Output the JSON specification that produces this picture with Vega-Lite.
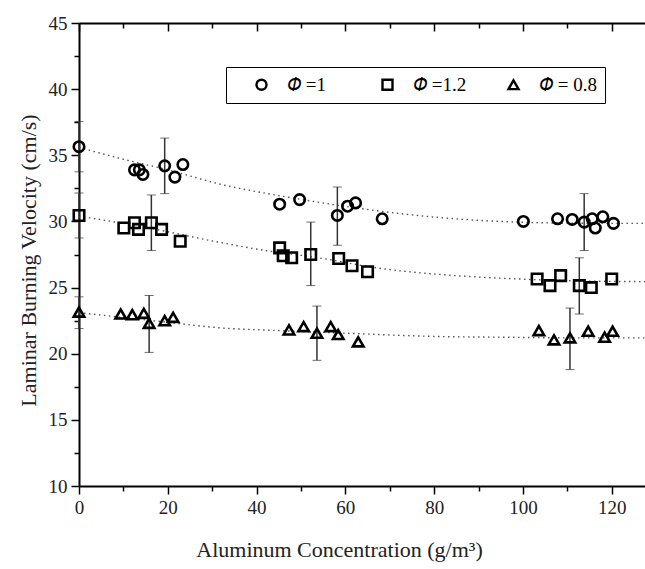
{
  "$schema": "https://vega.github.io/schema/vega-lite/v6.json",
  "width": 566,
  "height": 463,
  "autosize": "none",
  "padding": {"left": 79, "top": 23, "right": 0, "bottom": 83},
  "background": "white",
  "config": {
    "font": "Liberation Serif",
    "view": {"stroke": null},
    "axis": {
      "labelFont": "Liberation Serif",
      "titleFont": "Liberation Serif",
      "labelFontSize": 19,
      "titleFontSize": 22,
      "titleFontWeight": "normal",
      "labelColor": "#222",
      "titleColor": "#222",
      "domainColor": "black",
      "domainWidth": 2,
      "tickColor": "black",
      "tickWidth": 1.5,
      "grid": false,
      "labelOverlap": false,
      "labelFlush": false
    },
    "legend": {
      "labelFont": "Liberation Serif",
      "labelFontSize": 19,
      "labelColor": "black"
    }
  },
  "resolve": {"axis": {"x": "independent", "y": "independent"}},
  "datasets": {
    "pts": [
      {"s": "𝛷 =1", "x": 0, "v": 35.65},
      {"s": "𝛷 =1", "x": 12.5, "v": 33.9},
      {"s": "𝛷 =1", "x": 13.6, "v": 33.9},
      {"s": "𝛷 =1", "x": 14.4, "v": 33.55},
      {"s": "𝛷 =1", "x": 19.3, "v": 34.2},
      {"s": "𝛷 =1", "x": 21.6, "v": 33.35},
      {"s": "𝛷 =1", "x": 23.4, "v": 34.3},
      {"s": "𝛷 =1", "x": 45.2, "v": 31.3},
      {"s": "𝛷 =1", "x": 49.7, "v": 31.65},
      {"s": "𝛷 =1", "x": 58.2, "v": 30.45},
      {"s": "𝛷 =1", "x": 60.5, "v": 31.15},
      {"s": "𝛷 =1", "x": 62.3, "v": 31.4},
      {"s": "𝛷 =1", "x": 68.3, "v": 30.2},
      {"s": "𝛷 =1", "x": 100.1, "v": 30.0},
      {"s": "𝛷 =1", "x": 107.8, "v": 30.2},
      {"s": "𝛷 =1", "x": 111.1, "v": 30.15},
      {"s": "𝛷 =1", "x": 113.8, "v": 29.95},
      {"s": "𝛷 =1", "x": 115.6, "v": 30.2},
      {"s": "𝛷 =1", "x": 116.3, "v": 29.5},
      {"s": "𝛷 =1", "x": 118.0, "v": 30.35},
      {"s": "𝛷 =1", "x": 120.4, "v": 29.85},
      {"s": "𝛷 =1.2", "x": 0, "v": 30.45},
      {"s": "𝛷 =1.2", "x": 10.1, "v": 29.5},
      {"s": "𝛷 =1.2", "x": 12.5, "v": 29.9},
      {"s": "𝛷 =1.2", "x": 13.4, "v": 29.4},
      {"s": "𝛷 =1.2", "x": 16.3, "v": 29.9},
      {"s": "𝛷 =1.2", "x": 18.6, "v": 29.4},
      {"s": "𝛷 =1.2", "x": 22.8, "v": 28.5},
      {"s": "𝛷 =1.2", "x": 45.2, "v": 28.0},
      {"s": "𝛷 =1.2", "x": 46.0, "v": 27.4},
      {"s": "𝛷 =1.2", "x": 47.9, "v": 27.25},
      {"s": "𝛷 =1.2", "x": 52.2, "v": 27.5},
      {"s": "𝛷 =1.2", "x": 58.5, "v": 27.2},
      {"s": "𝛷 =1.2", "x": 61.5, "v": 26.65},
      {"s": "𝛷 =1.2", "x": 65.0, "v": 26.2},
      {"s": "𝛷 =1.2", "x": 103.2, "v": 25.65},
      {"s": "𝛷 =1.2", "x": 106.1, "v": 25.15},
      {"s": "𝛷 =1.2", "x": 108.5, "v": 25.9},
      {"s": "𝛷 =1.2", "x": 112.7, "v": 25.15},
      {"s": "𝛷 =1.2", "x": 115.4, "v": 25.0},
      {"s": "𝛷 =1.2", "x": 120.0, "v": 25.65},
      {"s": "𝛷 = 0.8", "x": 0, "v": 23.15},
      {"s": "𝛷 = 0.8", "x": 9.4, "v": 23.0},
      {"s": "𝛷 = 0.8", "x": 12.0, "v": 22.95},
      {"s": "𝛷 = 0.8", "x": 14.6, "v": 23.05},
      {"s": "𝛷 = 0.8", "x": 15.8, "v": 22.3},
      {"s": "𝛷 = 0.8", "x": 19.3, "v": 22.5},
      {"s": "𝛷 = 0.8", "x": 21.2, "v": 22.75},
      {"s": "𝛷 = 0.8", "x": 47.3, "v": 21.8},
      {"s": "𝛷 = 0.8", "x": 50.6, "v": 22.05},
      {"s": "𝛷 = 0.8", "x": 53.6, "v": 21.55},
      {"s": "𝛷 = 0.8", "x": 56.7, "v": 22.05},
      {"s": "𝛷 = 0.8", "x": 58.4, "v": 21.45},
      {"s": "𝛷 = 0.8", "x": 62.9, "v": 20.9},
      {"s": "𝛷 = 0.8", "x": 103.6, "v": 21.75},
      {"s": "𝛷 = 0.8", "x": 107.0, "v": 21.05},
      {"s": "𝛷 = 0.8", "x": 110.6, "v": 21.2},
      {"s": "𝛷 = 0.8", "x": 114.7, "v": 21.7},
      {"s": "𝛷 = 0.8", "x": 118.4, "v": 21.25},
      {"s": "𝛷 = 0.8", "x": 120.2, "v": 21.7}
    ],
    "err": [
      {"s": "𝛷 =1", "x": 0, "lo": 33.75, "hi": 37.55},
      {"s": "𝛷 =1", "x": 19.3, "lo": 32.1, "hi": 36.3},
      {"s": "𝛷 =1", "x": 58.2, "lo": 28.2, "hi": 32.6},
      {"s": "𝛷 =1", "x": 113.8, "lo": 27.8, "hi": 32.1},
      {"s": "𝛷 =1.2", "x": 0, "lo": 28.75, "hi": 32.15},
      {"s": "𝛷 =1.2", "x": 16.3, "lo": 27.8, "hi": 32.0},
      {"s": "𝛷 =1.2", "x": 52.2, "lo": 25.15, "hi": 29.95},
      {"s": "𝛷 =1.2", "x": 112.7, "lo": 23.0, "hi": 27.25},
      {"s": "𝛷 = 0.8", "x": 0, "lo": 21.9, "hi": 24.3},
      {"s": "𝛷 = 0.8", "x": 15.8, "lo": 20.1, "hi": 24.4},
      {"s": "𝛷 = 0.8", "x": 53.6, "lo": 19.5, "hi": 23.6},
      {"s": "𝛷 = 0.8", "x": 110.6, "lo": 18.8, "hi": 23.45}
    ],
    "fit": [
      {"s": "𝛷 =1", "x": 0, "v": 35.6},
      {"s": "𝛷 =1", "x": 10, "v": 34.7},
      {"s": "𝛷 =1", "x": 20, "v": 33.9},
      {"s": "𝛷 =1", "x": 32, "v": 32.8},
      {"s": "𝛷 =1", "x": 45, "v": 31.95},
      {"s": "𝛷 =1", "x": 53, "v": 31.5},
      {"s": "𝛷 =1", "x": 65, "v": 30.9},
      {"s": "𝛷 =1", "x": 81, "v": 30.3},
      {"s": "𝛷 =1", "x": 95, "v": 30.0},
      {"s": "𝛷 =1", "x": 110, "v": 29.87},
      {"s": "𝛷 =1", "x": 127.5, "v": 29.85},
      {"s": "𝛷 =1.2", "x": 0, "v": 30.4},
      {"s": "𝛷 =1.2", "x": 10, "v": 29.85},
      {"s": "𝛷 =1.2", "x": 18, "v": 29.35},
      {"s": "𝛷 =1.2", "x": 32, "v": 28.4},
      {"s": "𝛷 =1.2", "x": 43, "v": 27.75},
      {"s": "𝛷 =1.2", "x": 52, "v": 27.35},
      {"s": "𝛷 =1.2", "x": 69, "v": 26.4},
      {"s": "𝛷 =1.2", "x": 85, "v": 25.9},
      {"s": "𝛷 =1.2", "x": 99, "v": 25.65},
      {"s": "𝛷 =1.2", "x": 113, "v": 25.5},
      {"s": "𝛷 =1.2", "x": 127.5, "v": 25.45},
      {"s": "𝛷 = 0.8", "x": 0, "v": 23.1},
      {"s": "𝛷 = 0.8", "x": 18, "v": 22.45},
      {"s": "𝛷 = 0.8", "x": 32, "v": 21.95},
      {"s": "𝛷 = 0.8", "x": 45, "v": 21.75},
      {"s": "𝛷 = 0.8", "x": 60, "v": 21.55},
      {"s": "𝛷 = 0.8", "x": 81, "v": 21.3},
      {"s": "𝛷 = 0.8", "x": 95, "v": 21.25},
      {"s": "𝛷 = 0.8", "x": 110, "v": 21.2},
      {"s": "𝛷 = 0.8", "x": 127.5, "v": 21.2}
    ]
  },
  "layer": [
    {
      "data": {"name": "fit"},
      "mark": {"type": "line", "color": "#555", "strokeWidth": 1.4, "strokeDash": [1.5, 3.5], "interpolate": "monotone"},
      "encoding": {
        "x": {"field": "x", "type": "quantitative", "scale": {"domain": [0, 127.5], "nice": false, "zero": false},
              "axis": {"orient": "top", "title": null, "labels": false, "domainWidth": 2,
                       "values": [0,10,20,30,40,50,60,70,80,90,100,110,120],
                       "tickSize": {"condition": {"test": "datum.value % 20 !== 0", "value": -5}, "value": -8}}},
        "y": {"field": "v", "type": "quantitative", "scale": {"domain": [10, 45], "nice": false, "zero": false},
              "axis": {"orient": "left", "title": null, "labels": false, "domain": false, "tickSize": 5,
                       "values": [12.5,17.5,22.5,27.5,32.5,37.5,42.5]}},
        "detail": {"field": "s", "type": "nominal"}
      }
    },
    {
      "data": {"name": "err"},
      "mark": {"type": "errorbar", "ticks": {"size": 9, "color": "#333", "strokeWidth": 1.5}, "rule": {"color": "#333", "strokeWidth": 1.5}},
      "encoding": {
        "x": {"field": "x", "type": "quantitative", "axis": null},
        "y": {"field": "lo", "type": "quantitative", "scale": {"domain": [10, 45], "nice": false, "zero": false}, "axis": null},
        "y2": {"field": "hi"}
      }
    },
    {
      "data": {"name": "pts"},
      "mark": {"type": "point", "filled": false, "strokeWidth": 2.6, "color": "black", "opacity": 1, "size": 110},
      "encoding": {
        "x": {"field": "x", "type": "quantitative", "scale": {"domain": [0, 127.5], "nice": false, "zero": false},
              "axis": {"orient": "bottom", "title": "Aluminum Concentration (g/m³)", "titlePadding": 22,
                       "titleX": 260,
                       "values": [0,10,20,30,40,50,60,70,80,90,100,110,120],
                       "labelExpr": "datum.value % 20 === 0 ? datum.label : ''",
                       "labelPadding": 4,
                       "tickSize": {"condition": {"test": "datum.value % 20 !== 0", "value": 5}, "value": 8}}},
        "y": {"field": "v", "type": "quantitative", "scale": {"domain": [10, 45], "nice": false, "zero": false},
              "axis": {"orient": "left", "title": "Laminar Burning Velocity (cm/s)", "titlePadding": 8,
                       "titleY": 237,
                       "values": [10,15,20,25,30,35,40,45],
                       "labelPadding": 4, "tickSize": 8}},
        "shape": {"field": "s", "type": "nominal",
                  "scale": {"domain": ["𝛷 =1", "𝛷 =1.2", "𝛷 = 0.8"], "range": ["circle", "square", "triangle-up"]},
                  "legend": {"title": null, "orient": "none", "legendX": 147, "legendY": 44, "direction": "horizontal",
                             "strokeColor": "black", "padding": 8, "columnPadding": 15, "gridAlign": "all",
                             "symbolOffset": 18,
                             "symbolStrokeColor": "black", "symbolStrokeWidth": 2.4, "symbolFillColor": "white",
                             "symbolSize": 100, "labelOffset": 16}}
      }
    }
  ]
}
